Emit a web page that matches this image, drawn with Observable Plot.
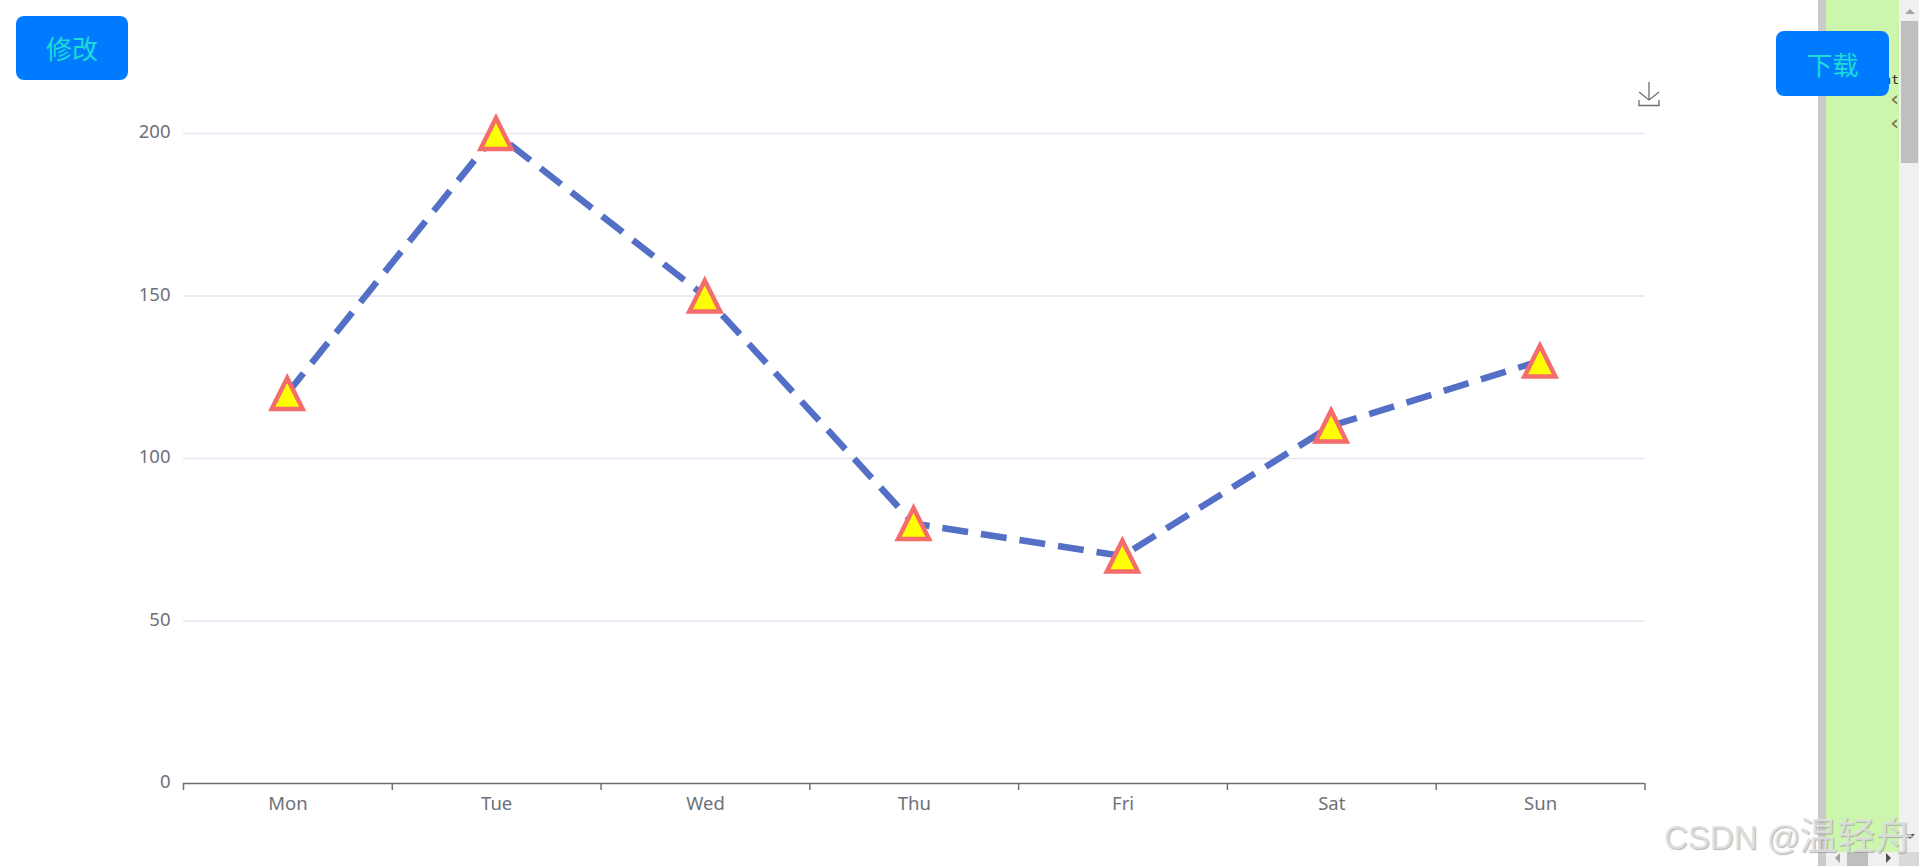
<!DOCTYPE html>
<html><head><meta charset="utf-8">
<script src="https://cdn.jsdelivr.net/npm/d3@7"></script>
<script src="https://cdn.jsdelivr.net/npm/@observablehq/plot@0.6"></script>
<style>
html,body{margin:0;padding:0;width:1919px;height:866px;overflow:hidden;background:#fff;font-family:"Noto Sans CJK SC","Noto Sans",sans-serif}
#chart{position:absolute;left:0;top:0}
.btn{position:absolute;width:112px;height:64px;line-height:63px;text-align:center;background:#007bff;color:#1cdcd4;font-size:26px;border-radius:8px}
#panel{position:absolute;left:1818px;top:0;width:8px;height:866px;background:#cbcbcb}
#green{position:absolute;left:1826px;top:0;width:73px;height:852px;background:#ccf6ac;overflow:hidden}
#green span{position:absolute;right:0;color:#222;white-space:nowrap}
#vbar{position:absolute;left:1899px;top:0;width:20px;height:852px;background:#f0f0f0}
#thumb{position:absolute;left:2px;top:21px;width:17px;height:142px;background:#bfbfbf}
#hbar{position:absolute;left:1826px;top:852px;width:73px;height:14px;background:#f0f0f0}
#hthumb{position:absolute;left:21px;top:0;width:21px;height:14px;background:#bfbfbf}
#corner{position:absolute;left:1899px;top:852px;width:20px;height:14px;background:#d9d9d9}
#scrollarrows{position:absolute;left:0;top:0;pointer-events:none}
#mark{position:absolute;left:1664px;top:808px;font-size:33px;line-height:50px;white-space:nowrap;color:rgba(226,226,226,.85);text-shadow:1px 1px 1px rgba(140,140,140,.65);font-family:"Liberation Sans",sans-serif}
#mark b{font:normal 38px "Noto Sans CJK SC",sans-serif;line-height:50px;margin-left:-1px}
#dl{position:absolute;left:1638px;top:81px}
</style></head><body>
<div id="panel"></div>
<div id="green">
<span style="top:72px;font:13px 'DejaVu Sans Mono',monospace">nt</span>
<span style="top:86px;font:22px 'DejaVu Sans',sans-serif;color:#7a6a50">‹</span>
<span style="top:110px;font:22px 'DejaVu Sans',sans-serif;color:#7a6a50">‹</span>
</div>
<div id="vbar"><div id="thumb"></div></div>
<div id="hbar"><div id="hthumb"></div></div>
<div id="corner"></div>
<svg id="scrollarrows" width="1919" height="866"><path d="M1905 14L1910 9L1915 14Z" fill="#a3a3a3"/><path d="M1905 834L1915 834L1910 839Z" fill="#505050"/><path d="M1840 853L1840 863L1835 858Z" fill="#a3a3a3"/><path d="M1886 853L1886 863L1891 858Z" fill="#505050"/></svg>
<div id="chart"></div>
<div class="btn" style="left:16px;top:16px">修改</div>
<div class="btn" style="left:1776px;top:31px;height:65px;width:113px;line-height:66px">下载</div>
<svg id="dl" width="22" height="26" viewBox="0 0 22 26" fill="none" stroke="#6e6e6e" stroke-width="1.3"><path d="M11 1V19M1 11L11 19L21 11M1 19V24.5H21V19"/></svg>
<div id="mark">CSDN @<b>温轻舟</b></div>
<script>
const days = ["Mon","Tue","Wed","Thu","Fri","Sat","Sun"];
const values = [120,200,150,80,70,110,130];
const yTicks = [0,50,100,150,200];
const bandEdges = [0,1,2,3,4,5,6,7];
const rows = days.map((d,i)=>({day:d,pos:i+0.5,value:values[i]}));
const lineColor = "#5470c6", symFill = "#ffff00", symStroke = "#f56c6c", axisColor = "#6e7079", gridColor = "#e0e6f1";
const triangle = {draw(ctx,size){const r=Math.sqrt(size/Math.PI);ctx.moveTo(0,-r);ctx.lineTo(r,r);ctx.lineTo(-r,r);ctx.closePath();}};
const fig = Plot.plot({
  width:1919,height:866,marginLeft:183,marginRight:274.5,marginTop:133,marginBottom:83,
  style:{background:"transparent",fontFamily:"'Noto Sans',sans-serif",fontSize:"18px",color:axisColor},
  x:{type:"linear",domain:[0,7],axis:null},
  y:{domain:[0,200],axis:null},
  marks:[
    Plot.ruleY(yTicks.filter(v=>v>0),{stroke:gridColor,strokeWidth:1.5,strokeOpacity:1}),
    Plot.text(yTicks,{x:0,y:d=>d,text:d=>String(d),dx:-13,dy:-1,textAnchor:"end",fill:axisColor,fontSize:18.5}),
    Plot.axisX({ticks:bandEdges,tickFormat:()=>"",tickSize:7,stroke:axisColor,strokeWidth:1.5,strokeOpacity:1,label:null}),
    Plot.ruleY([0],{stroke:axisColor,strokeWidth:1.5}),
    Plot.text(rows,{x:"pos",y:0,text:"day",dy:21,fill:axisColor,fontSize:18.5}),
    Plot.line(rows,{x:"pos",y:"value",dx:-0.7,stroke:lineColor,strokeWidth:6.5,strokeDasharray:"26 13",strokeLinecap:"butt",strokeLinejoin:"bevel"}),
    Plot.dot(rows,{x:"pos",y:"value",dx:-0.7,symbol:triangle,r:15.5,fill:symFill,stroke:symStroke,strokeWidth:4.5,strokeLinejoin:"miter",strokeMiterlimit:4})
  ]
});
document.getElementById("chart").appendChild(fig);
</script>
</body></html>
